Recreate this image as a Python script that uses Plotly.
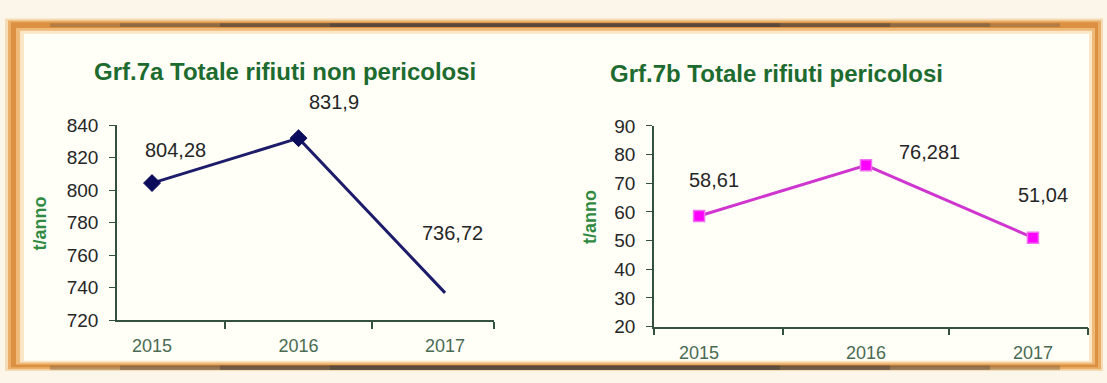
import plotly.graph_objects as go

# --- data -----------------------------------------------------------------
years = ["2015", "2016", "2017"]
non_pericolosi = [804.28, 831.9, 736.72]      # t/anno
pericolosi = [58.61, 76.281, 51.04]           # t/anno
labels_np = ["804,28", "831,9", "736,72"]
labels_p = ["58,61", "76,281", "51,04"]

W, H = 1107, 383
FONT = "Arial, Liberation Sans, sans-serif"
GREEN = "#1d6b2f"
AXIS = "#34503e"

xpos = list(range(len(years)))

fig = go.Figure()

# left panel: non-hazardous waste (line only, diamonds on the first two years)
fig.add_trace(go.Scatter(
    x=xpos, y=non_pericolosi, mode="lines",
    line=dict(color="#1c1c6a", width=3),
    xaxis="x", yaxis="y", showlegend=False, cliponaxis=False,
))
fig.add_trace(go.Scatter(
    x=xpos[:2], y=non_pericolosi[:2], mode="markers",
    marker=dict(symbol="diamond", size=13, color="#0c0c5c", opacity=1,
                line=dict(color="#0c0c5c", width=1)),
    xaxis="x", yaxis="y", showlegend=False, cliponaxis=False,
))
# right panel: hazardous waste
fig.add_trace(go.Scatter(
    x=xpos, y=pericolosi, mode="lines+markers",
    line=dict(color="#cf36cf", width=3),
    marker=dict(symbol="square", size=11, color="#ff00ff",
                line=dict(color="#f070f0", width=1.5)),
    xaxis="x2", yaxis="y2", showlegend=False, cliponaxis=False,
))

def xaxis_cfg(domain, rng, bounds):
    return dict(
        domain=domain, range=rng, showgrid=False, zeroline=False,
        showline=True, linecolor=AXIS, linewidth=1.6,
        tickmode="array", tickvals=xpos, ticktext=years, ticks="",
        tickfont=dict(family=FONT, size=18, color="#4a6b52"),
        ticklabelstandoff=9,
        minor=dict(tickmode="array", tickvals=bounds, ticks="outside",
                   ticklen=7, tickwidth=1.6, tickcolor=AXIS, showgrid=False),
        fixedrange=True,
    )

def yaxis_cfg(domain, rng, dtick, anchor):
    return dict(
        domain=domain, range=rng, dtick=dtick, anchor=anchor,
        showgrid=False, zeroline=False,
        showline=True, linecolor=AXIS, linewidth=1.6,
        ticks="outside", ticklen=6, tickwidth=1.4, tickcolor=AXIS,
        tickfont=dict(family=FONT, size=19, color="#262626"),
        ticklabelstandoff=7, fixedrange=True,
    )

fig.update_layout(
    width=W, height=H,
    margin=dict(l=0, r=0, t=0, b=0),
    paper_bgcolor="#fbf5ea", plot_bgcolor="rgba(0,0,0,0)",
    xaxis=xaxis_cfg([117 / W, 494 / W], [-0.239, 2.334], [0.5, 1.5, 2.333]),
    yaxis=yaxis_cfg([55 / H, 261.3 / H], [720, 840], 20, "x"),
    xaxis2=dict(xaxis_cfg([654 / W, 1088 / W], [-0.27, 2.33], [-0.269, 0.5, 1.5, 2.329]), anchor="y2"),
    yaxis2=yaxis_cfg([48 / H, 260.3 / H], [20, 90], 10, "x2"),
)

# frame: orange border with darker top/bottom edges and a cream panel
shapes = []
def rect(x0, y0, x1, y1, color):
    shapes.append(dict(type="rect", xref="paper", yref="paper",
                       x0=x0 / W, x1=x1 / W, y0=1 - y1 / H, y1=1 - y0 / H,
                       line=dict(width=0), fillcolor=color, layer="below"))

rect(5, 9, 1103, 382, "#f5dcb4")
rect(8, 11, 1101, 380, "#eaae68")
rect(11, 13, 1098, 378, "#dc9142")
# dark bands along the top and bottom edges, fading towards the corners
for x0, x1, c in [(50, 1060, "rgba(110,90,70,0.35)"), (120, 990, "rgba(90,78,66,0.4)"),
                  (220, 890, "rgba(70,62,56,0.45)"), (330, 780, "rgba(60,56,54,0.4)")]:
    rect(x0, 14, x1, 18, c)
    rect(x0, 376, x1, 381, c)
rect(16, 19, 1095, 375, "#efb978")
rect(20, 22, 1092, 373, "#fbe6c6")
rect(24, 25, 1089, 371, "#fffef7")
fig.update_layout(shapes=shapes)

ann = []
def text(x, y, s, size, color, bold=False, angle=0):
    ann.append(dict(xref="paper", yref="paper", x=x / W, y=1 - y / H,
                    text=f"<b>{s}</b>" if bold else s, showarrow=False,
                    textangle=angle, xanchor="center", yanchor="middle",
                    font=dict(family=FONT, size=size, color=color)))

text(285, 65, "Grf.7a Totale rifiuti non pericolosi", 24, GREEN, bold=True)
text(776, 67, "Grf.7b Totale rifiuti pericolosi", 24, GREEN, bold=True)
text(40, 226, "t/anno", 18, "#2f8a40", bold=True, angle=-90)
text(590, 219, "t/anno", 18, "#2f8a40", bold=True, angle=-90)

# value labels attached to their points
shift_np = [(23, 33), (35, 36), (7, 60)]
shift_p = [(15, 36), (64, 13), (10, 43)]
for i, (v, lab) in enumerate(zip(non_pericolosi, labels_np)):
    ann.append(dict(xref="x", yref="y", x=xpos[i], y=v, text=lab, showarrow=False,
                    xshift=shift_np[i][0], yshift=shift_np[i][1],
                    font=dict(family=FONT, size=20, color="#262626")))
for i, (v, lab) in enumerate(zip(pericolosi, labels_p)):
    ann.append(dict(xref="x2", yref="y2", x=xpos[i], y=v, text=lab, showarrow=False,
                    xshift=shift_p[i][0], yshift=shift_p[i][1],
                    font=dict(family=FONT, size=20, color="#262626")))
fig.update_layout(annotations=ann)

fig.write_html("out.html", config=dict(displayModeBar=False))
